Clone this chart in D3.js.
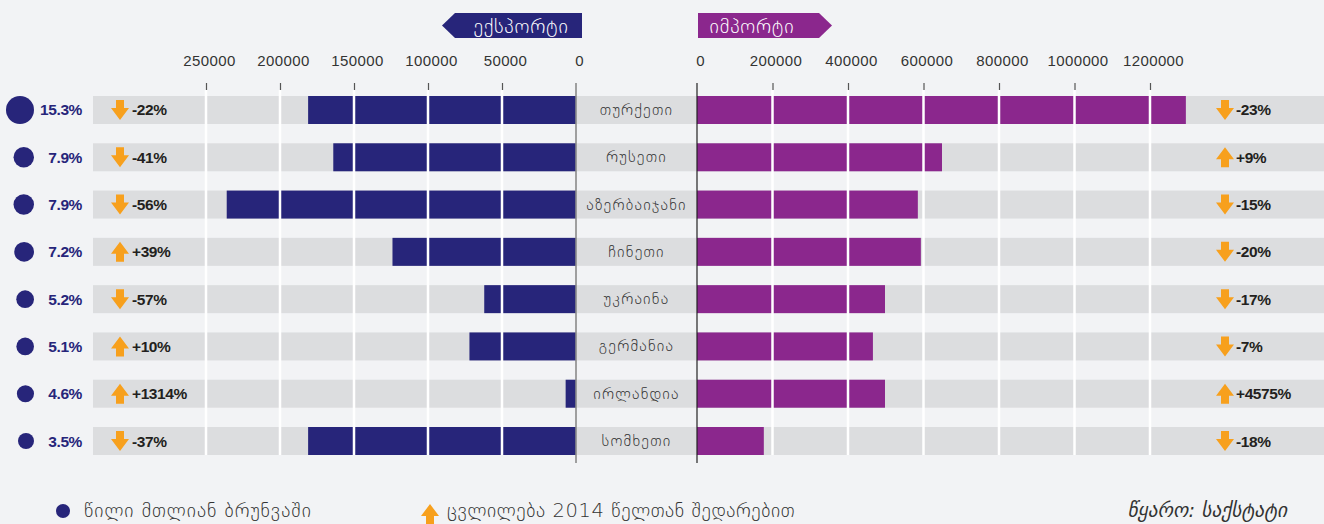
<!DOCTYPE html>
<html>
<head>
<meta charset="utf-8">
<script src="https://cdn.jsdelivr.net/npm/d3@7"></script>
<style>
  body { margin: 0; background: #f2f3f5; }
  svg { display: block; }
  .geo { font-family: "DejaVu Sans", sans-serif; font-weight: 200; }
  .num { font-family: "Liberation Sans", Arial, sans-serif; }
</style>
</head>
<body>
<svg id="chart" width="1324" height="524"></svg>
<script>
// Countries (top to bottom)
const countries = ["თურქეთი", "რუსეთი", "აზერბაიჯანი", "ჩინეთი", "უკრაინა", "გერმანია", "ირლანდია", "სომხეთი"];
// share in total turnover, %
const shares = [15.3, 7.9, 7.9, 7.2, 5.2, 5.1, 4.6, 3.5];
// export / import values (USD thousand)
const exportValues = [181000, 164000, 236000, 124000, 62000, 72000, 7000, 181000];
const importValues = [1295000, 649000, 585000, 593000, 498000, 466000, 498000, 177000];
// change compared to 2014, %
const exportChange = [-22, -41, -56, 39, -57, 10, 1314, -37];
const importChange = [-23, 9, -15, -20, -17, -7, 4575, -18];
// axis ticks
const exportTicks = [0, 50000, 100000, 150000, 200000, 250000];
const importTicks = [0, 200000, 400000, 600000, 800000, 1000000, 1200000];

const navy = "#27257a";
const purple = "#8b278d";
const orange = "#f7a01d";
const rowGray = "#dcdddf";

const svg = d3.select("#chart");

// scales
const xExp = d3.scaleLinear().domain([0, 250000]).range([576, 206]);
const xImp = d3.scaleLinear().domain([0, 1200000]).range([697, 1150]);
const y = d3.scaleBand().domain(countries).range([96, 455]).paddingInner(0.408);
const r = d3.scaleLinear().domain([3.5, 15.3]).range([8, 14]);

const rows = countries.map((c, i) => ({
  name: c, share: shares[i], exp: exportValues[i], imp: importValues[i],
  expCh: exportChange[i], impCh: importChange[i]
}));

// gray row backgrounds
svg.append("g").selectAll("rect").data(rows).join("rect")
  .attr("x", 93).attr("width", 1324 - 93)
  .attr("y", d => y(d.name)).attr("height", y.bandwidth())
  .attr("fill", rowGray);

// export bars
svg.append("g").selectAll("rect").data(rows).join("rect")
  .attr("x", d => xExp(d.exp)).attr("width", d => xExp(0) - xExp(d.exp))
  .attr("y", d => y(d.name)).attr("height", y.bandwidth())
  .attr("fill", navy);

// import bars
svg.append("g").selectAll("rect").data(rows).join("rect")
  .attr("x", xImp(0)).attr("width", d => xImp(d.imp) - xImp(0))
  .attr("y", d => y(d.name)).attr("height", y.bandwidth())
  .attr("fill", purple);

// white gridlines over the rows
const gridTop = 90, gridBottom = y(countries[countries.length - 1]) + y.bandwidth();
svg.append("g").selectAll("line").data(exportTicks.slice(1)).join("line")
  .attr("x1", d => xExp(d)).attr("x2", d => xExp(d))
  .attr("y1", gridTop).attr("y2", gridBottom)
  .attr("stroke", "#fff").attr("stroke-width", 2.5);
svg.append("g").selectAll("line").data(importTicks.slice(1)).join("line")
  .attr("x1", d => xImp(d)).attr("x2", d => xImp(d))
  .attr("y1", gridTop).attr("y2", gridBottom)
  .attr("stroke", "#fff").attr("stroke-width", 2.5);

// axes (tick marks + labels)
const expAxis = d3.axisTop(xExp).tickValues(exportTicks).tickSize(7).tickPadding(17).tickFormat(d3.format("d"));
const impAxis = d3.axisTop(xImp).tickValues(importTicks).tickSize(7).tickPadding(17).tickFormat(d3.format("d"));

[expAxis, impAxis].forEach(ax => {
  const g = svg.append("g").attr("transform", "translate(0,90)").call(ax);
  g.select(".domain").remove();
  g.selectAll(".tick line").attr("stroke", "#555").attr("stroke-width", 1.2)
    .filter(d => d === 0).remove();
  g.selectAll(".tick text").attr("class", "num").attr("fill", "#333")
    .attr("dx", 3)
    .style("font-size", "15px").style("letter-spacing", "0.4px");
});

// zero lines
svg.append("line").attr("x1", xExp(0)).attr("x2", xExp(0)).attr("y1", 83).attr("y2", 463)
  .attr("stroke", "#8a8a8a").attr("stroke-width", 1.6);
svg.append("line").attr("x1", xImp(0)).attr("x2", xImp(0)).attr("y1", 83).attr("y2", 463)
  .attr("stroke", "#222").attr("stroke-width", 1.2);

// header tags
svg.append("path").attr("d", "M442,25.5 L455,13 L582,13 L582,38 L455,38 Z").attr("fill", navy);
svg.append("text").attr("class", "geo").attr("x", 521).attr("y", 33)
  .attr("text-anchor", "middle").attr("fill", "#fff").style("font-size", "20px")
  .style("letter-spacing", "0.8px").text("ექსპორტი");
svg.append("path").attr("d", "M698,13 L819,13 L832,25.5 L819,38 L698,38 Z").attr("fill", purple);
svg.append("text").attr("class", "geo").attr("x", 752).attr("y", 33)
  .attr("text-anchor", "middle").attr("fill", "#fff").style("font-size", "20px")
  .style("letter-spacing", "0.8px").text("იმპორტი");

// arrow shape centred at (cx, cy)
function arrow(cx, cy, up) {
  const s = up ? -1 : 1;
  return `M${cx - 4},${cy - 10 * s} L${cx + 4},${cy - 10 * s} L${cx + 4},${cy - 2 * s}` +
    ` L${cx + 9},${cy - 2 * s} L${cx},${cy + 10 * s} L${cx - 9},${cy - 2 * s} L${cx - 4},${cy - 2 * s} Z`;
}

const labels = svg.append("g").selectAll("g").data(rows).join("g")
  .attr("transform", d => `translate(0,${y(d.name) + y.bandwidth() / 2})`);

// share circles + text
labels.append("circle").attr("cx", d => 34 - r(d.share)).attr("cy", 0)
  .attr("r", d => r(d.share)).attr("fill", navy);
labels.append("text").attr("class", "num").attr("x", 82).attr("y", 5.5)
  .attr("text-anchor", "end").attr("fill", navy)
  .style("font-size", "15.5px").style("font-weight", "bold").style("letter-spacing", "-0.4px")
  .text(d => d.share.toFixed(1) + "%");

// export change
labels.append("path").attr("d", d => arrow(120, 0, d.expCh > 0)).attr("fill", orange);
labels.append("text").attr("class", "num").attr("x", 132).attr("y", 5.5)
  .attr("fill", "#231f20").style("font-size", "15.5px").style("font-weight", "bold")
  .style("letter-spacing", "-0.4px")
  .text(d => (d.expCh > 0 ? "+" : "") + d.expCh + "%");

// import change
labels.append("path").attr("d", d => arrow(1225, 0, d.impCh > 0)).attr("fill", orange);
labels.append("text").attr("class", "num").attr("x", 1236).attr("y", 5.5)
  .attr("fill", "#231f20").style("font-size", "15.5px").style("font-weight", "bold")
  .style("letter-spacing", "-0.4px")
  .text(d => (d.impCh > 0 ? "+" : "") + d.impCh + "%");

// country names
labels.append("text").attr("class", "geo").attr("x", (xExp(0) + xImp(0)) / 2).attr("y", 5)
  .attr("text-anchor", "middle").attr("fill", "#333").style("font-size", "16px")
  .style("letter-spacing", "1.2px")
  .text(d => d.name);

// legend
svg.append("circle").attr("cx", 63).attr("cy", 511).attr("r", 7).attr("fill", navy);
svg.append("text").attr("class", "geo").attr("x", 84).attr("y", 517)
  .attr("fill", "#333").style("font-size", "19.5px").style("letter-spacing", "1px")
  .text("წილი მთლიან ბრუნვაში");
svg.append("path").attr("d", arrow(430, 514, true)).attr("fill", orange);
svg.append("text").attr("class", "geo").attr("x", 447).attr("y", 517)
  .attr("fill", "#333").style("font-size", "19.5px").style("letter-spacing", "0.6px")
  .text("ცვლილება 2014 წელთან შედარებით");
svg.append("text").attr("class", "geo").attr("x", 1287).attr("y", 517)
  .attr("text-anchor", "end").attr("fill", "#333").style("font-size", "19.5px")
  .style("font-style", "italic").style("font-weight", "200").text("წყარო: საქსტატი");
</script>
</body>
</html>
